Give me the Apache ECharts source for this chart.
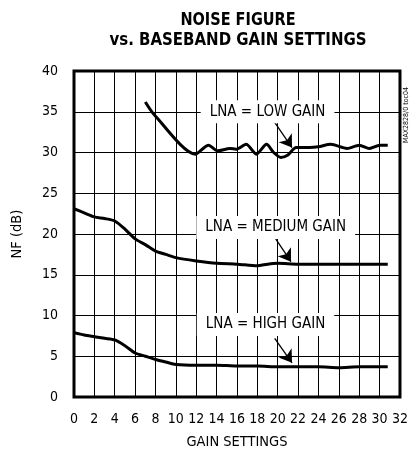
<!DOCTYPE html>
<html><head><meta charset="utf-8">
<script src="https://cdn.jsdelivr.net/npm/echarts@6/dist/echarts.min.js"></script>
<style>html,body{margin:0;padding:0;background:#fff}#c{width:411px;height:455px}</style>
</head><body><div id="c"></div>
<script>
var FONT = "'DejaVu Sans Condensed','Liberation Sans Narrow',sans-serif";
var xTicks = [0,2,4,6,8,10,12,14,16,18,20,22,24,26,28,30,32];
var yTicks = [0,5,10,15,20,25,30,35,40];

var lowX  = [7.0, 7.9, 11.9, 13.2, 14.1, 15.3, 15.9, 16.9, 17.9, 18.9, 19.6, 20.3, 21.0, 21.8, 23.1, 24.0, 25.2, 26.8, 28.0, 29.0, 30.0, 30.8];
var lowY  = [36.2, 34.6, 29.8, 30.9, 30.2, 30.5, 30.4, 31.0, 29.8, 31.0, 30.0, 29.4, 29.7, 30.6, 30.6, 30.7, 31.0, 30.5, 30.9, 30.5, 30.9, 30.9];

var medX  = [0, 1, 2, 3, 4, 5, 6, 7, 8, 9, 10, 12, 14, 16, 18, 19, 20, 22, 24, 26, 28, 30, 30.8];
var medY  = [23.1, 22.6, 22.1, 21.9, 21.6, 20.6, 19.4, 18.7, 17.9, 17.5, 17.1, 16.7, 16.4, 16.3, 16.1, 16.3, 16.4, 16.3, 16.3, 16.3, 16.3, 16.3, 16.3];

var highX = [0, 1, 2, 3, 4, 5, 6, 7, 8, 9, 10, 12, 14, 16, 18, 20, 22, 24, 26, 28, 30, 30.8];
var highY = [7.9, 7.6, 7.4, 7.2, 7.0, 6.3, 5.4, 5.0, 4.6, 4.3, 4.0, 3.9, 3.9, 3.8, 3.8, 3.7, 3.7, 3.7, 3.6, 3.7, 3.7, 3.7];

var labelTexts = ['LNA = LOW GAIN', 'LNA = MEDIUM GAIN', 'LNA = HIGH GAIN'];
var labelPos   = [[19.0, 35.0], [19.8, 20.8], [18.8, 8.9]];
var arrowFrom  = [[19.7, 33.7], [19.8, 19.4], [19.7, 7.2]];
var arrowTo    = [[21.4, 30.6], [21.3, 16.6], [21.4, 4.2]];

function pairs(xs, ys){ return xs.map(function(x,i){ return [x, ys[i]]; }); }

function series(name, xs, ys, idx){
  return {
    name: name, type: 'line', data: pairs(xs, ys), smooth: 0.25,
    symbol: 'none', lineStyle: {color: '#000', width: 3}, z: 3,
    markLine: {
      silent: true, symbol: ['none', 'arrow'], symbolSize: 12,
      lineStyle: {color: '#000', width: 1.3, type: 'solid'}, label: {show: false},
      data: [[{coord: arrowFrom[idx]}, {coord: arrowTo[idx]}]]
    },
    markPoint: {
      silent: true, symbol: 'rect', symbolSize: 0,
      label: {show: true, position: 'inside', formatter: labelTexts[idx], color: '#000',
        fontFamily: FONT, fontSize: 15, backgroundColor: '#fff', padding: [4, 9]},
      data: [{coord: labelPos[idx]}]
    }
  };
}

var chart = echarts.init(document.getElementById('c'), null, {renderer: 'canvas'});
chart.setOption({
  animation: false,
  backgroundColor: '#fff',
  grid: {left: 74, right: 10, top: 71, bottom: 57, show: true, borderColor: '#000', borderWidth: 3, backgroundColor: 'transparent'},
  graphic: [
    {type: 'text', x: 238, y: 20, scaleX: 0.87, style: {text: 'NOISE FIGURE', align: 'center', verticalAlign: 'middle', fontFamily: FONT, fontWeight: 'bold', fontSize: 18.5, fill: '#000'}},
    {type: 'text', x: 238, y: 40, scaleX: 0.9, style: {text: 'vs. BASEBAND GAIN SETTINGS', align: 'center', verticalAlign: 'middle', fontFamily: FONT, fontWeight: 'bold', fontSize: 18.5, fill: '#000'}},
    {type: 'text', rotation: Math.PI/2, x: 403, y: 143, style: {text: 'MAX2828/0 toc04', fontFamily: FONT, fontSize: 7, fill: '#000'}}
  ],
  xAxis: {
    type: 'value', min: 0, max: 32, interval: 2,
    name: 'GAIN SETTINGS', nameLocation: 'middle', nameGap: 38,
    nameTextStyle: {fontFamily: FONT, fontSize: 14.5, color: '#000'},
    axisLine: {show: false}, axisTick: {show: false},
    axisLabel: {margin: 15, fontFamily: FONT, fontSize: 14, color: '#000',
      formatter: function(v){ return xTicks.indexOf(v) >= 0 ? String(v) : ''; }},
    splitLine: {show: true, lineStyle: {color: '#000', width: 1}}
  },
  yAxis: {
    type: 'value', min: 0, max: 40, interval: 5,
    name: 'NF (dB)', nameLocation: 'middle', nameGap: 49,
    nameTextStyle: {fontFamily: FONT, fontSize: 14.5, color: '#000'},
    axisLine: {show: false}, axisTick: {show: false},
    axisLabel: {margin: 16, fontFamily: FONT, fontSize: 14, color: '#000',
      formatter: function(v){ return yTicks.indexOf(v) >= 0 ? String(v) : ''; }},
    splitLine: {show: true, lineStyle: {color: '#000', width: 1}}
  },
  series: [
    series('LOW', lowX, lowY, 0),
    series('MEDIUM', medX, medY, 1),
    series('HIGH', highX, highY, 2)
  ]
});
</script></body></html>
